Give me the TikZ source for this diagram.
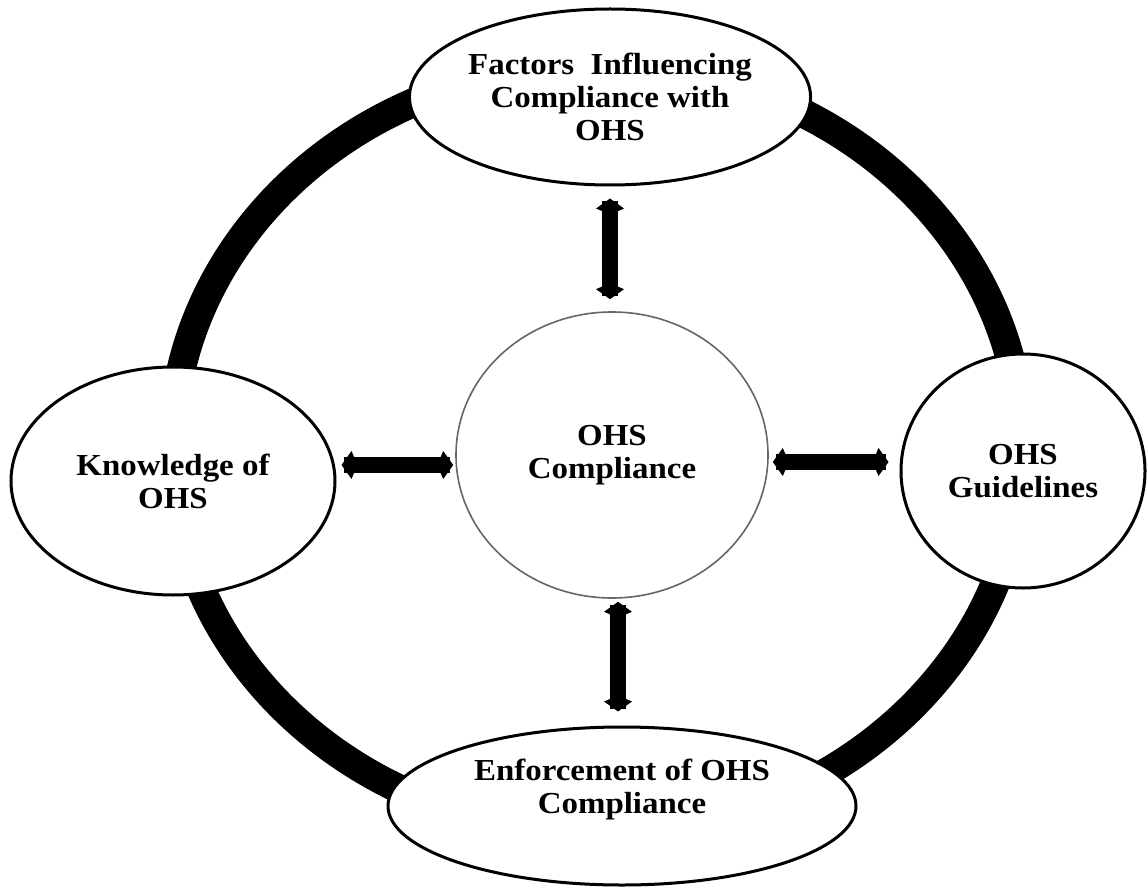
\documentclass[tikz,border=0pt]{standalone}
\usepackage{fontspec}
\setmainfont{Liberation Serif}
\newfontfamily\diagfont{Liberation Serif}[FakeStretch=1.08]
\usetikzlibrary{arrows.meta,shapes.geometric,calc}
\begin{document}
\begin{tikzpicture}[x=1pt,y=-1pt,
  ring/.style={line width=29pt, draw=black},
  labelfont/.style={font=\diagfont\bfseries\fontsize{30.5}{33}\selectfont},
  outernode/.style={ellipse, draw=black, line width=3pt, fill=white, inner sep=0pt,
    align=center, labelfont},
  corenode/.style={ellipse, draw=black!60, line width=1.6pt, fill=white, inner sep=0pt,
    align=center, labelfont},
  txt/.style={inner sep=0pt, align=center, labelfont},
  link/.style={line width=16pt, draw=black,
    {Kite[length=16pt,width=28pt,inset=6pt]}-{Kite[length=16pt,width=28pt,inset=6pt]}}
]
\useasboundingbox (0,0) rectangle (1148,890);
\fill[white] (0,0) rectangle (1148,890);

% big ring
\draw[ring] (597,449) ellipse [x radius=425pt, y radius=384pt];

% nodes
\node[outernode, minimum width=396pt, minimum height=176pt] (fac) at (610,97)
  {Factors~ Influencing\\Compliance with\\OHS};
\node[outernode, minimum width=324pt, minimum height=228pt] (know) at (173,481)
  {Knowledge of\\OHS};
\node[outernode, minimum width=244pt, minimum height=234pt] (guide) at (1023,471)
  {OHS\\Guidelines};
\node[outernode, minimum width=468pt, minimum height=158pt] (enf) at (622,806) {};
\node[txt] (enftext) at (622,790) {Enforcement of OHS\\Compliance};
\node[corenode, minimum width=312pt, minimum height=286pt] (core) at (612,455)
  {OHS\\Compliance};

% connectors
\draw[link, shorten <=12pt, shorten >=12pt] (fac.south) -- (fac.south |- core.north);
\draw[link, shorten <=3pt, shorten >=14pt] ([xshift=6pt]core.south) -- ([xshift=6pt]core.south |- enf.north);
\draw[link, shorten <=5pt, shorten >=2pt] ([yshift=-10pt]core.west -| know.east) -- ([yshift=-10pt]core.west);
\draw[link, shorten <=4pt, shorten >=11pt] ([yshift=-7pt]core.east) -- ([yshift=-7pt]core.east -| guide.west);
\end{tikzpicture}
\end{document}
